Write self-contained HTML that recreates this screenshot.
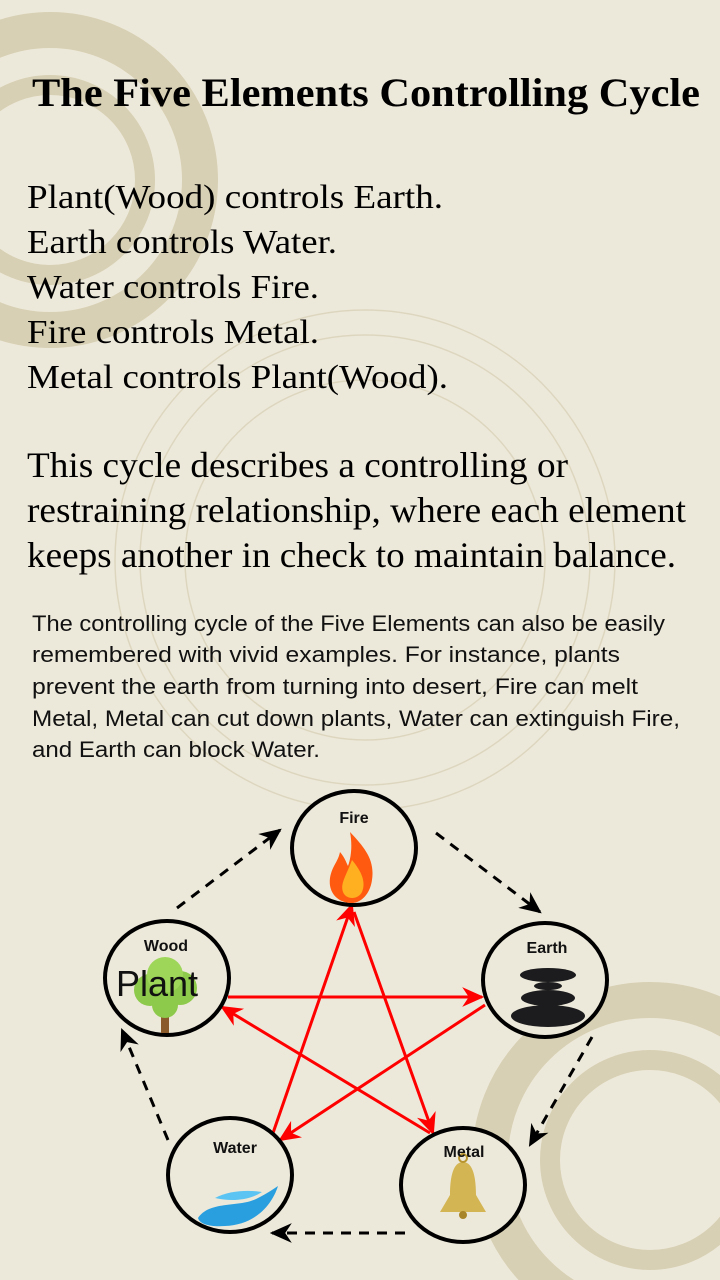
<!DOCTYPE html>
<html><head><meta charset="utf-8"><style>
html,body{margin:0;padding:0;background:#ede9da;}
svg{display:block}
</style></head><body>
<svg width="720" height="1280" viewBox="0 0 720 1280" xmlns="http://www.w3.org/2000/svg">
<defs>
<marker id="ra" viewBox="0 0 20 20" refX="18" refY="10" markerWidth="22" markerHeight="22" markerUnits="userSpaceOnUse" orient="auto"><path d="M0,1 L20,10 L0,19 L6,10 z" fill="#ff0000"/></marker>
<marker id="ba" viewBox="0 0 20 20" refX="18" refY="10" markerWidth="22" markerHeight="22" markerUnits="userSpaceOnUse" orient="auto"><path d="M0,1 L20,10 L0,19 L6,10 z" fill="#000"/></marker>
</defs>
<rect width="720" height="1280" fill="#ede9da"/>
<g fill="none" stroke="#d8d0b4">
<circle cx="50" cy="180" r="150" stroke-width="36"/>
<circle cx="50" cy="180" r="95" stroke-width="20"/>
<circle cx="650" cy="1160" r="160" stroke-width="36"/>
<circle cx="650" cy="1160" r="100" stroke-width="20"/>
</g>
<g fill="none" stroke="#ddd6bf" stroke-width="1.5">
<circle cx="365" cy="560" r="250"/>
<circle cx="365" cy="560" r="225"/>
<circle cx="365" cy="560" r="180"/>
</g>
<g font-family="Liberation Serif, serif" fill="#000">
<text x="32" y="106" font-size="40" font-weight="bold" textLength="668" lengthAdjust="spacingAndGlyphs">The Five Elements Controlling Cycle</text>
<text x="27" y="208" font-size="34" textLength="416" lengthAdjust="spacingAndGlyphs">Plant(Wood) controls Earth.</text>
<text x="27" y="253" font-size="34" textLength="310" lengthAdjust="spacingAndGlyphs">Earth controls Water.</text>
<text x="27" y="298" font-size="34" textLength="292" lengthAdjust="spacingAndGlyphs">Water controls Fire.</text>
<text x="27" y="343" font-size="34" textLength="292" lengthAdjust="spacingAndGlyphs">Fire controls Metal.</text>
<text x="27" y="388" font-size="34" textLength="421" lengthAdjust="spacingAndGlyphs">Metal controls Plant(Wood).</text>
<text x="27" y="477" font-size="36" textLength="541" lengthAdjust="spacingAndGlyphs">This cycle describes a controlling or</text>
<text x="27" y="522" font-size="36" textLength="659" lengthAdjust="spacingAndGlyphs">restraining relationship, where each element</text>
<text x="27" y="567" font-size="36" textLength="649" lengthAdjust="spacingAndGlyphs">keeps another in check to maintain balance.</text>
</g>
<g font-family="Liberation Sans, sans-serif" fill="#111" font-size="22">
<text x="32" y="631" textLength="633" lengthAdjust="spacingAndGlyphs">The controlling cycle of the Five Elements can also be easily</text>
<text x="32" y="662" textLength="588" lengthAdjust="spacingAndGlyphs">remembered with vivid examples. For instance, plants</text>
<text x="32" y="694" textLength="606" lengthAdjust="spacingAndGlyphs">prevent the earth from turning into desert, Fire can melt</text>
<text x="32" y="726" textLength="648" lengthAdjust="spacingAndGlyphs">Metal, Metal can cut down plants, Water can extinguish Fire,</text>
<text x="32" y="757" textLength="288" lengthAdjust="spacingAndGlyphs">and Earth can block Water.</text>
</g>
<g stroke="#ff0000" stroke-width="3" fill="none" marker-end="url(#ra)">
<line x1="228" y1="997" x2="482" y2="997"/>
<line x1="485" y1="1005" x2="280" y2="1140"/>
<line x1="273" y1="1133" x2="352" y2="905"/>
<line x1="354" y1="912" x2="433" y2="1133"/>
<line x1="430" y1="1133" x2="222" y2="1007"/>
</g>
<g stroke="#000" stroke-width="3" fill="none" stroke-dasharray="10,8" marker-end="url(#ba)">
<line x1="177" y1="908" x2="280" y2="830"/>
<line x1="436" y1="833" x2="540" y2="912"/>
<line x1="592" y1="1037" x2="530" y2="1145"/>
<line x1="405" y1="1233" x2="272" y2="1233"/>
<line x1="168" y1="1140" x2="122" y2="1030"/>
</g>
<g fill="#ede9da" stroke="#000" stroke-width="4">
<ellipse cx="354" cy="848" rx="62" ry="57"/>
<ellipse cx="167" cy="978" rx="62" ry="57"/>
<ellipse cx="545" cy="980" rx="62" ry="57"/>
<ellipse cx="230" cy="1175" rx="62" ry="57"/>
<ellipse cx="463" cy="1185" rx="62" ry="57"/>
</g>
<path d="M350,832 C365,848 375,860 372,880 C370,895 360,903 352,903 C338,903 328,893 330,878 C332,866 338,862 340,852 C345,858 346,862 348,866 C352,855 352,842 350,832z" fill="#ff5a10"/>
<path d="M352,860 C362,872 366,882 362,892 C358,900 346,900 343,892 C340,884 346,876 352,860z" fill="#ffb020"/>
<rect x="161" y="1005" width="8" height="28" fill="#8a5a2b"/>
<circle cx="150" cy="990" r="16" fill="#8dc94a"/><circle cx="180" cy="988" r="17" fill="#8dc94a"/><circle cx="165" cy="975" r="18" fill="#9ed65a"/><circle cx="165" cy="1005" r="13" fill="#8dc94a"/>
<g fill="#1c1c1e">
<ellipse cx="548" cy="975" rx="28" ry="7"/>
<ellipse cx="548" cy="986" rx="14" ry="4"/>
<ellipse cx="548" cy="998" rx="27" ry="8"/>
<ellipse cx="548" cy="1016" rx="37" ry="11"/>
</g>
<path d="M198,1218 C210,1200 240,1208 258,1198 C266,1194 272,1190 278,1186 C272,1205 255,1225 225,1226 C212,1227 200,1225 198,1218z" fill="#2a9fe0"/>
<path d="M215,1198 C230,1190 250,1190 262,1192 C250,1200 232,1202 215,1198z" fill="#5cc4f2"/>
<path d="M450,1195 C450,1172 455,1162 463,1162 C471,1162 476,1172 476,1195 L486,1212 L440,1212z" fill="#d4b553"/>
<circle cx="463" cy="1158" r="4" fill="none" stroke="#b8952e" stroke-width="2"/>
<circle cx="463" cy="1215" r="4" fill="#a88528"/>
<g font-family="Liberation Sans, sans-serif" font-size="16" text-anchor="middle" fill="#111" font-weight="bold">
<text x="354" y="823">Fire</text>
<text x="166" y="951">Wood</text>
<text x="547" y="953">Earth</text>
<text x="235" y="1153">Water</text>
<text x="464" y="1157">Metal</text>
</g>
<text x="157" y="996" font-family="Liberation Sans, sans-serif" font-size="36" text-anchor="middle" fill="#111">Plant</text>
</svg>
</body></html>
